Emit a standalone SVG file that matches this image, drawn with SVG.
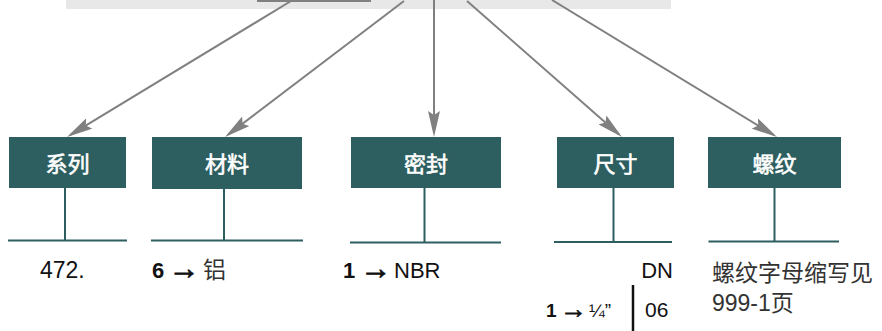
<svg xmlns="http://www.w3.org/2000/svg" width="882" height="331" viewBox="0 0 882 331">
<defs>
<marker id="ah" viewBox="0 0 26 12" markerWidth="26" markerHeight="12" refX="22" refY="6" orient="auto" markerUnits="userSpaceOnUse">
<path d="M0,0 L26,6 L0,12 L4,6 z" fill="#808080"/>
</marker>
<style>
.box{fill:#2d5e60}
.stem{stroke:#2d5e60;stroke-width:2;fill:none}
.conn{stroke:#808080;stroke-width:2;fill:none;marker-end:url(#ah)}
.bt{font-family:"Noto Sans CJK SC",sans-serif;font-size:22px;fill:#ffffff;stroke:#ffffff;stroke-width:0.6;text-anchor:middle}
.lbl{font-family:"Liberation Sans","Noto Sans CJK SC",sans-serif;font-size:22px;fill:#111}
.cjk{font-family:"Noto Sans CJK SC",sans-serif;fill:#333}
.b{font-weight:bold}
.ar{font-family:"Liberation Sans",sans-serif;font-weight:bold;stroke:#111;stroke-width:0.9}
</style>
</defs>
<rect x="66" y="0" width="605" height="9" fill="#e8e8e8"/>
<rect x="257" y="0" width="114" height="2" fill="#808080"/>
<g id="connectors">
<line class="conn" x1="291" y1="1" x2="70.4" y2="134.9"/>
<line class="conn" x1="404" y1="1" x2="228.2" y2="134.6"/>
<line class="conn" x1="434" y1="0" x2="434" y2="133"/>
<line class="conn" x1="467" y1="1" x2="619" y2="134.4"/>
<line class="conn" x1="552" y1="0" x2="773.6" y2="134.9"/>
</g>
<g id="node-series">
<rect class="box" x="9" y="137" width="117" height="51"/>
<text class="bt" x="67.5" y="172">系列</text>
<path class="stem" d="M65,188 V240.5 M8,240.5 H127"/>
</g>
<g id="node-material">
<rect class="box" x="152" y="137" width="150" height="52"/>
<text class="bt" x="227" y="172">材料</text>
<path class="stem" d="M224,189 V240.5 M151,240.5 H303"/>
</g>
<g id="node-seal">
<rect class="box" x="351" y="137" width="150" height="51"/>
<text class="bt" x="426" y="172">密封</text>
<path class="stem" d="M424.5,188 V242.5 M350,242.5 H501"/>
</g>
<g id="node-size">
<rect class="box" x="557" y="137" width="117" height="51"/>
<text class="bt" x="615.5" y="172">尺寸</text>
<path class="stem" d="M613.5,188 V242 M554,242 H672"/>
</g>
<g id="node-thread">
<rect class="box" x="708" y="137" width="133" height="51"/>
<text class="bt" x="774.5" y="172">螺纹</text>
<path class="stem" d="M774.5,188 V241.5 M708.5,241.5 H839"/>
</g>
<text class="lbl" x="40" y="278" style="font-size:23px">472.</text>
<text class="lbl" y="278"><tspan class="b" x="152">6</tspan><tspan class="ar" x="168.7" y="279" style="font-size:31px">→</tspan><tspan class="cjk" x="203" y="278" style="font-size:23px">铝</tspan></text>
<text class="lbl" y="278"><tspan class="b" x="343">1</tspan><tspan class="ar" x="360.4" y="279" style="font-size:31px">→</tspan><tspan x="394" y="278">NBR</tspan></text>
<text class="lbl" x="673" y="278" text-anchor="end">DN</text>
<text class="lbl" y="317" style="font-size:19px"><tspan class="b" x="546">1</tspan><tspan class="ar" x="559.7" y="318" style="font-size:27px;stroke-width:0.7">→</tspan><tspan x="589" y="317">¼”</tspan></text>
<line x1="633" y1="285" x2="633" y2="331" stroke="#111" stroke-width="2.5"/>
<text class="lbl" x="645" y="317" style="font-size:21px">06</text>
<text class="cjk" style="font-size:23px"><tspan x="712" y="281">螺纹字母缩写见</tspan><tspan x="712" y="311"><tspan font-family="Liberation Sans">999-1</tspan>页</tspan></text>
</svg>
